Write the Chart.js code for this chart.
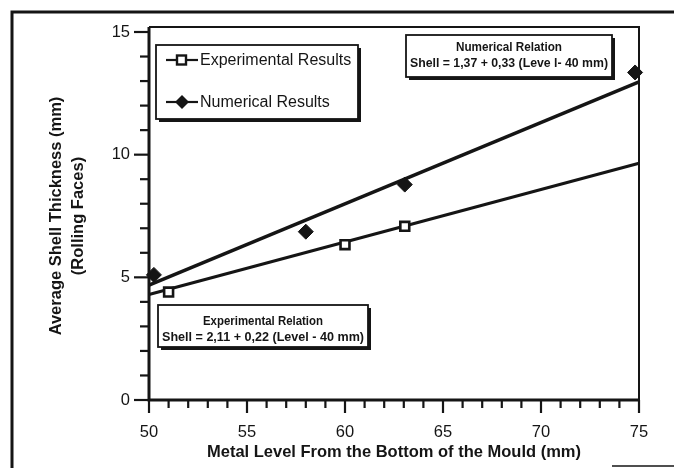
<!DOCTYPE html>
<html><head><meta charset="utf-8">
<script src="https://cdn.jsdelivr.net/npm/chart.js@4"></script>
<style>html,body{margin:0;padding:0;background:#fff}#wrap{width:674px;height:468px}</style>
</head><body><div id="wrap"><canvas id="c" width="674" height="468"></canvas></div>
<script>
// ---- data ----
const expLevel = [51.0, 60.0, 63.05];
const expThickness = [4.4, 6.33, 7.08];
const numLevel = [50.25, 58.0, 63.05, 74.8];
const numThickness = [5.1, 6.86, 8.78, 13.35];
const fitLevel = [50, 75];
const expFit = [4.3, 9.65];
const numFit = [4.68, 12.97];
const xTicks = [50, 55, 60, 65, 70, 75];
const yTicks = [0, 5, 10, 15];
const seriesNames = ['Experimental Results', 'Numerical Results'];
const expRelation = ['Experimental Relation', 'Shell = 2,11 + 0,22 (Level - 40 mm)'];
const numRelation = ['Numerical Relation', 'Shell = 1,37 + 0,33 (Leve l- 40 mm)'];
const xTitle = 'Metal Level From the Bottom of the Mould (mm)';
const yTitle = ['Average Shell Thickness (mm)', '(Rolling Faces)'];

const INK = '#151515';
const FONT = "'Liberation Sans', Arial, sans-serif";
const pts = (xs, ys) => xs.map((x, i) => ({x: x, y: ys[i]}));

function shadowBox(ctx, x, y, w, h) {
  ctx.fillStyle = INK;
  ctx.fillRect(x + 3, y + 3, w, h);
  ctx.fillStyle = '#fff';
  ctx.fillRect(x, y, w, h);
  ctx.lineWidth = 1.8;
  ctx.strokeStyle = INK;
  ctx.strokeRect(x, y, w, h);
}
function fitText(ctx, txt, cx, cy, maxW) {
  const w = ctx.measureText(txt).width;
  ctx.save();
  ctx.translate(cx, cy);
  ctx.scale(maxW / w, 1);
  ctx.fillText(txt, 0, 0);
  ctx.restore();
}

const deco = {
  id: 'deco',
  beforeDraw(chart) {
    const ctx = chart.ctx;
    ctx.save();
    ctx.fillStyle = '#fff';
    ctx.fillRect(0, 0, chart.width, chart.height);
    ctx.strokeStyle = INK;
    ctx.lineWidth = 3;
    ctx.beginPath();
    ctx.moveTo(12, 468); ctx.lineTo(12, 12); ctx.lineTo(674, 12);
    ctx.stroke();
    ctx.lineWidth = 1.5;
    ctx.beginPath();
    ctx.moveTo(612, 466); ctx.lineTo(674, 466);
    ctx.stroke();
    ctx.restore();
  },
  afterDraw(chart) {
    const ctx = chart.ctx;
    const a = chart.chartArea;
    const xs = chart.scales.x, ys = chart.scales.y;
    ctx.save();
    ctx.strokeStyle = INK;
    // plot frame
    ctx.lineWidth = 2;
    ctx.beginPath();
    ctx.moveTo(a.left, a.top - 5); ctx.lineTo(a.right, a.top - 5); ctx.lineTo(a.right, a.bottom);
    ctx.stroke();
    ctx.lineWidth = 3;
    ctx.beginPath();
    ctx.moveTo(a.left, a.top - 5); ctx.lineTo(a.left, a.bottom); ctx.lineTo(a.right, a.bottom);
    ctx.stroke();
    // ticks
    ctx.lineWidth = 2.2;
    for (let v = ys.min; v <= ys.max; v++) {
      const py = ys.getPixelForValue(v);
      const len = v % 5 === 0 ? 15 : 9;
      ctx.beginPath(); ctx.moveTo(a.left, py); ctx.lineTo(a.left - len, py); ctx.stroke();
    }
    for (let v = xs.min; v <= xs.max; v++) {
      const px = xs.getPixelForValue(v);
      const len = v % 5 === 0 ? 13 : 8;
      ctx.beginPath(); ctx.moveTo(px, a.bottom); ctx.lineTo(px, a.bottom + len); ctx.stroke();
    }
    // legend
    shadowBox(ctx, 156, 45, 202, 74);
    const rows = [60, 102];
    rows.forEach((ry, i) => {
      ctx.strokeStyle = INK;
      ctx.lineWidth = 2.2;
      ctx.beginPath(); ctx.moveTo(166, ry); ctx.lineTo(198, ry); ctx.stroke();
      if (i === 0) {
        ctx.fillStyle = '#fff';
        ctx.lineWidth = 2.4;
        ctx.fillRect(177, ry - 4.5, 9, 9);
        ctx.strokeRect(177, ry - 4.5, 9, 9);
      } else {
        ctx.fillStyle = INK;
        ctx.beginPath();
        ctx.moveTo(182, ry - 7); ctx.lineTo(189, ry); ctx.lineTo(182, ry + 7); ctx.lineTo(175, ry);
        ctx.closePath(); ctx.fill();
      }
      ctx.fillStyle = INK;
      ctx.font = '16px ' + FONT;
      ctx.textAlign = 'left';
      ctx.textBaseline = 'middle';
      ctx.fillText(seriesNames[i], 200, ry + 1);
    });
    // relation boxes
    ctx.textAlign = 'center';
    ctx.textBaseline = 'middle';
    shadowBox(ctx, 406, 35, 206, 42);
    ctx.fillStyle = INK;
    ctx.font = 'bold 12px ' + FONT;
    fitText(ctx, numRelation[0], 509, 48, 106);
    fitText(ctx, numRelation[1], 509, 64, 198);
    shadowBox(ctx, 158, 305, 210, 42);
    ctx.fillStyle = INK;
    fitText(ctx, expRelation[0], 263, 322, 120);
    fitText(ctx, expRelation[1], 263, 338, 202);
    ctx.restore();
  }
};

new Chart(document.getElementById('c'), {
  type: 'scatter',
  data: {
    datasets: [
      {label: seriesNames[0], data: pts(expLevel, expThickness), pointStyle: 'rect', pointRadius: 6.3,
       pointBackgroundColor: '#fff', pointBorderColor: INK, pointBorderWidth: 2.6, showLine: false},
      {label: seriesNames[1], data: pts(numLevel, numThickness), pointStyle: 'rectRot', pointRadius: 7.5,
       pointBackgroundColor: INK, pointBorderColor: INK, pointBorderWidth: 1, showLine: false},
      {label: 'exp fit', data: pts(fitLevel, expFit), showLine: true, borderColor: INK, borderWidth: 3,
       pointRadius: 0},
      {label: 'num fit', data: pts(fitLevel, numFit), showLine: true, borderColor: INK, borderWidth: 3.5,
       pointRadius: 0}
    ]
  },
  options: {
    responsive: false,
    devicePixelRatio: 1,
    animation: false,
    clip: false,
    layout: {padding: {left: 38, right: 35, top: 32, bottom: 5}},
    plugins: {legend: {display: false}, tooltip: {enabled: false}},
    scales: {
      x: {
        type: 'linear', min: 50, max: 75,
        afterBuildTicks: s => { s.ticks = xTicks.map(v => ({value: v})); },
        afterFit: s => { s.height = 63; },
        grid: {color: 'rgba(0,0,0,0)', drawOnChartArea: false, drawTicks: true, tickLength: 0},
        border: {display: false},
        ticks: {font: {family: FONT, size: 16.5}, color: INK, padding: 23, maxRotation: 0, autoSkip: false},
        title: {display: true, text: xTitle, color: INK, font: {family: FONT, size: 16.5, weight: 'bold', lineHeight: 1.2},
                padding: {top: 0, bottom: 1}}
      },
      y: {
        type: 'linear', min: 0, max: 15,
        afterBuildTicks: s => { s.ticks = yTicks.map(v => ({value: v})); },
        afterFit: s => { s.width = 111; },
        grid: {color: 'rgba(0,0,0,0)', drawOnChartArea: false, drawTicks: true, tickLength: 0},
        border: {display: false},
        ticks: {font: {family: FONT, size: 16.5}, color: INK, padding: 19, autoSkip: false},
        title: {display: true, text: yTitle, color: INK, font: {family: FONT, size: 16.5, weight: 'bold', lineHeight: 1.3},
                padding: {top: 8, bottom: 0}}
      }
    }
  },
  plugins: [deco]
});
</script>
</body></html>
